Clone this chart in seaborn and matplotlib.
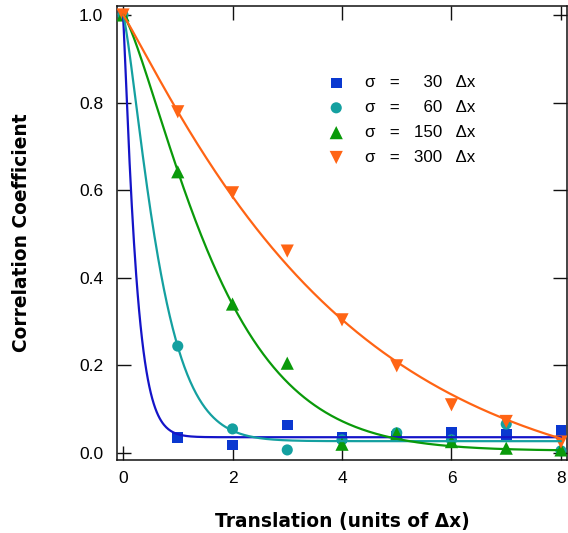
import numpy as np
import pandas as pd
import matplotlib
matplotlib.use("Agg")
import matplotlib.pyplot as plt
import seaborn as sns

# ---- data ----
translation = [0, 1, 2, 3, 4, 5, 6, 7, 8]
r_sigma30 = [1.0, 0.036, 0.018, 0.064, 0.036, 0.038, 0.046, 0.043, 0.051]
r_sigma60 = [1.0, 0.244, 0.055, 0.007, 0.030, 0.046, 0.030, 0.066, 0.005]
r_sigma150 = [1.0, 0.642, 0.340, 0.205, 0.020, 0.044, 0.026, 0.011, 0.007]
r_sigma300 = [1.0, 0.779, 0.594, 0.461, 0.304, 0.199, 0.110, 0.072, 0.025]
sigma_values = ["30", "60", "150", "300"]

# fitted curves: r = offset + amp * exp(-(x/tau)^pow)
fit_offset = [0.036, 0.027, 0.005, -0.10]
fit_amp = [0.964, 0.973, 0.995, 1.10]
fit_tau = [0.25, 0.73, 1.87, 4.0]
fit_pow = [1.15, 1.3, 1.3, 1.08]

y_ticks = [0.0, 0.2, 0.4, 0.6, 0.8, 1.0]
x_ticks = [0, 2, 4, 6, 8]

series = [r_sigma30, r_sigma60, r_sigma150, r_sigma300]
marker_colors = ["#0a38d0", "#14a0a0", "#0a9a0a", "#ff6414"]
line_colors = ["#1414c8", "#14a0a0", "#0a9a0a", "#ff6414"]
markers = ["s", "o", "^", "v"]
msizes = [60, 64, 90, 90]

sns.set_style("ticks")
plt.rcParams["font.family"] = ["Liberation Sans", "DejaVu Sans"]

fig = plt.figure(figsize=(5.68, 5.33), dpi=100)
ax = fig.add_axes([117 / 568, 73 / 533, 450 / 568, 454 / 533])

rows = []
for sv, vals in zip(sigma_values, series):
    for x, v in zip(translation, vals):
        rows.append({"sigma": sv, "translation": x, "r": v})
df = pd.DataFrame(rows)

xfit = np.linspace(0, 8, 600)
for i, sv in enumerate(sigma_values):
    sub = df[df["sigma"] == sv]
    pad = " " * (2 * (3 - len(sv)))
    label = f"σ   =   {pad}{sv}   Δx"
    sns.scatterplot(data=sub, x="translation", y="r", marker=markers[i],
                    color=marker_colors[i], s=msizes[i], linewidth=0,
                    edgecolor="none", ax=ax, label=label, zorder=3)

for i, sv in enumerate(sigma_values):
    yfit = fit_offset[i] + fit_amp[i] * np.exp(-(xfit / fit_tau[i]) ** fit_pow[i])
    sns.lineplot(x=xfit, y=yfit, color=line_colors[i], linewidth=1.6, ax=ax,
                 zorder=4, legend=False)

ax.set_xlim(-0.11, 8.11)
ax.set_ylim(-0.016, 1.0205)
ax.set_xticks(x_ticks)
ax.set_xticklabels([str(t) for t in x_ticks])
ax.set_yticks(y_ticks)
ax.set_yticklabels([f"{t:.1f}" for t in y_ticks])

for sp in ax.spines.values():
    sp.set_visible(True)
    sp.set_linewidth(1.1)
    sp.set_color("#111111")

ax.tick_params(axis="both", direction="in", length=10, width=1.0,
               top=True, right=True, labelsize=12.5, colors="#111111",
               labelcolor="black")
ax.tick_params(axis="x", pad=8)
ax.tick_params(axis="y", pad=10)

ax.set_xlabel("Translation (units of Δx)", fontsize=13.4, fontweight="bold",
              family=["DejaVu Sans"], color="black")
ax.set_ylabel("Correlation Coefficient", fontsize=13.4, fontweight="bold",
              family=["DejaVu Sans"], color="black")
ax.xaxis.set_label_coords(0.5, -0.114)
ax.yaxis.set_label_coords(-0.19, 0.5)

leg = ax.legend(loc="upper left", bbox_to_anchor=(0.442, 0.862), frameon=False,
                fontsize=12.2, handlelength=1.6, handletextpad=0.9,
                labelspacing=0.58, borderaxespad=0)
for t in leg.get_texts():
    t.set_color("black")

fig.savefig("out.png", dpi=100)
